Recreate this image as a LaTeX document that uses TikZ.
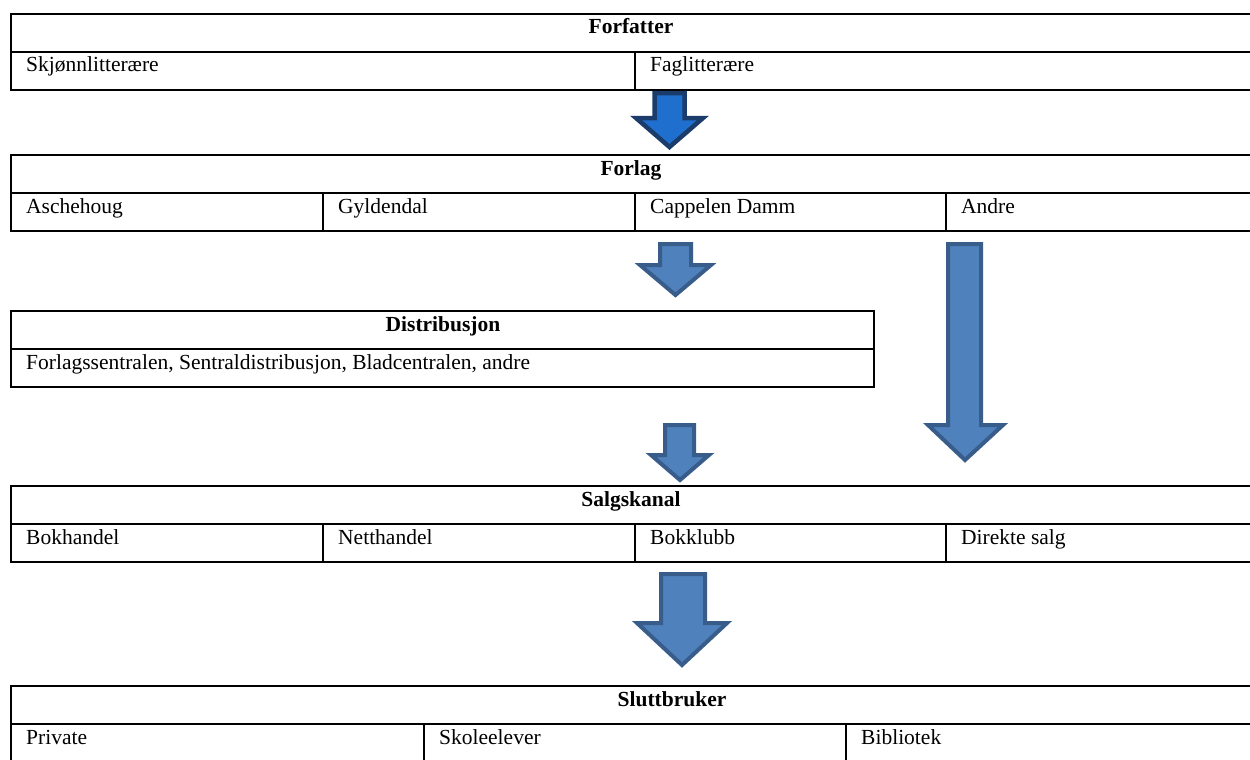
\documentclass[tikz,border=0pt]{standalone}
\usepackage{fontspec}
\setmainfont{Liberation Serif}
\definecolor{brightfill}{HTML}{1F6FCF}
\definecolor{brightline}{HTML}{1B3C6B}
\definecolor{arrfill}{HTML}{4F81BD}
\definecolor{arrline}{HTML}{385D8A}
\begin{document}
\begin{tikzpicture}[x=1pt,y=-1pt,
  rule/.style={line width=2.6pt,line cap=rect},
  cell/.style={anchor=base west,inner sep=0pt,font=\fontsize{21.5}{25}\selectfont},
  head/.style={anchor=base,inner sep=0pt,font=\fontsize{21.5}{25}\selectfont\bfseries},
  blockarrow/.style={fill=arrfill,draw=arrline,line width=4pt,line join=miter},
  firstarrow/.style={fill=brightfill,draw=brightline,line width=4.5pt,line join=miter}]
\useasboundingbox (0,0) rectangle (1250,760);
\fill[white] (0,0) rectangle (1250,760);

% Table 1: Forfatter
\draw[rule] (1262,14) -- (11,14) -- (11,90) -- (1262,90);
\draw[rule] (11,52) -- (1262,52);
\draw[rule] (635,52) -- (635,90);
\node[head] (forfatter) at (631,34) {Forfatter};
\node[cell] (skjonn) at (26,72) {Skjønnlitterære};
\node[cell] (fag) at (650,72) {Faglitterære};

% Table 2: Forlag
\draw[rule] (1262,155) -- (11,155) -- (11,231) -- (1262,231);
\draw[rule] (11,193) -- (1262,193);
\foreach \x in {323,635,946} \draw[rule] (\x,193) -- (\x,231);
\node[head] (forlag) at (631,175) {Forlag};
\node[cell] (asch) at (26,213) {Aschehoug};
\node[cell] (gyld) at (338,213) {Gyldendal};
\node[cell] (capp) at (650,213) {Cappelen Damm};
\node[cell] (andre) at (961,213) {Andre};

% Table 3: Distribusjon
\draw[rule] (11,311) rectangle (874,387);
\draw[rule] (11,349) -- (874,349);
\node[head] (distr) at (443,331) {Distribusjon};
\node[cell] (distrlist) at (26,369) {Forlagssentralen, Sentraldistribusjon, Bladcentralen, andre};

% Table 4: Salgskanal
\draw[rule] (1262,486) -- (11,486) -- (11,562) -- (1262,562);
\draw[rule] (11,524) -- (1262,524);
\foreach \x in {323,635,946} \draw[rule] (\x,524) -- (\x,562);
\node[head] (salg) at (631,506) {Salgskanal};
\node[cell] (bokh) at (26,544) {Bokhandel};
\node[cell] (nett) at (338,544) {Netthandel};
\node[cell] (bokk) at (650,544) {Bokklubb};
\node[cell] (direkte) at (961,544) {Direkte salg};

% Table 5: Sluttbruker
\draw[rule] (1262,686) -- (11,686) -- (11,770);
\draw[rule] (11,724) -- (1262,724);
\foreach \x in {424,846} \draw[rule] (\x,724) -- (\x,770);
\node[head] (slutt) at (672,706) {Sluttbruker};
\node[cell] (priv) at (26,744) {Private};
\node[cell] (skole) at (439,744) {Skoleelever};
\node[cell] (bibl) at (861,744) {Bibliotek};

% Block arrows
\draw[firstarrow] (654.5,93) -- (684.5,93) -- (684.5,118) -- (703,118) -- (669.5,147) -- (636,118) -- (654.5,118) -- cycle;
\draw[blockarrow] (660,244) -- (691,244) -- (691,265) -- (711,265) -- (675.5,295) -- (640,265) -- (660,265) -- cycle;
\draw[blockarrow] (948,244) -- (981,244) -- (981,425) -- (1003,425) -- (965,460) -- (928,425) -- (948,425) -- cycle;
\draw[blockarrow] (665,425) -- (694,425) -- (694,455) -- (709,455) -- (680,480) -- (651,455) -- (665,455) -- cycle;
\draw[blockarrow] (661,574) -- (705,574) -- (705,623) -- (727,623) -- (682,665) -- (637,623) -- (661,623) -- cycle;
\end{tikzpicture}
\end{document}
